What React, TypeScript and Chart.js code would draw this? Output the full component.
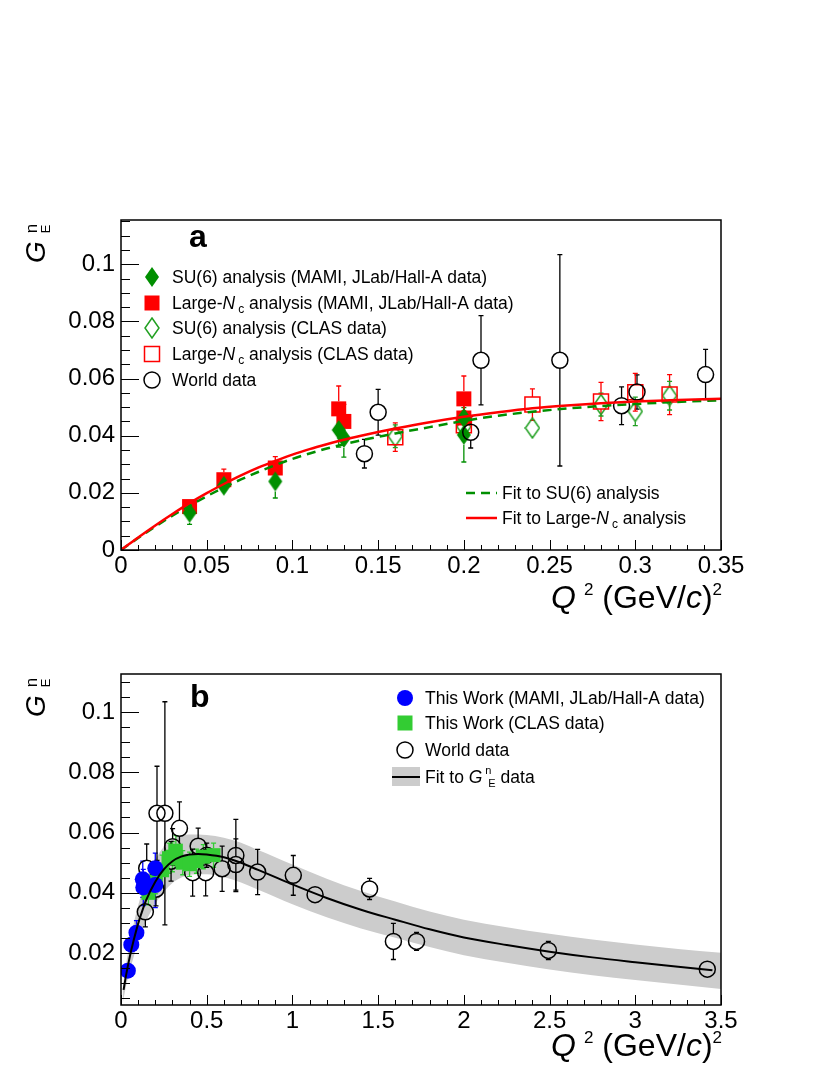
import { useEffect, useRef } from 'react';
import Chart from 'chart.js/auto';

const FONT = '"Liberation Sans", Arial, Helvetica, sans-serif';
const RED = '#ff0000';
const GREEN = '#008f00';
const GREEN_OPEN = '#22a022';
const GREEN_LIGHT = '#33cc33';
const BLUE = '#0000ff';
const GREY = '#cccccc';

// ---- panel a: the two analyses ----
const su6MamiQ2 = [0.04, 0.06, 0.09, 0.127, 0.13, 0.2, 0.2];
const su6MamiGE = [0.013, 0.0225, 0.024, 0.042, 0.0392, 0.0462, 0.0403];
const su6MamiErr = [0.004, 0.002, 0.0058, 0.006, 0.0067, 0.006, 0.0095];

const lncMamiQ2 = [0.04, 0.06, 0.09, 0.127, 0.13, 0.2, 0.2];
const lncMamiGE = [0.0152, 0.0246, 0.0287, 0.0494, 0.045, 0.0529, 0.0462];
const lncMamiErr = [0.0015, 0.0037, 0.004, 0.008, 0.006, 0.008, 0.006];

const su6ClasQ2 = [0.16, 0.2, 0.24, 0.28, 0.3, 0.32];
const su6ClasGE = [0.0398, 0.0432, 0.0427, 0.0509, 0.0485, 0.054];
const su6ClasErr = [0.004, 0.004, 0.003, 0.004, 0.005, 0.005];

const lncClasQ2 = [0.16, 0.2, 0.24, 0.28, 0.3, 0.32];
const lncClasGE = [0.0395, 0.0437, 0.0509, 0.052, 0.0552, 0.0544];
const lncClasErr = [0.005, 0.005, 0.0055, 0.0067, 0.0066, 0.007];

const fitQ2A = [0, 0.01, 0.02, 0.03, 0.04, 0.05, 0.06, 0.07, 0.08, 0.09, 0.1, 0.11, 0.12, 0.13, 0.14, 0.15, 0.16, 0.18, 0.2, 0.22, 0.24, 0.26, 0.28, 0.3, 0.32, 0.35];
const fitLncA = [0, 0.0044, 0.0086, 0.0126, 0.0164, 0.0199, 0.0231, 0.0261, 0.0288, 0.0312, 0.0334, 0.0353, 0.037, 0.0386, 0.04, 0.0413, 0.0425, 0.0447, 0.0466, 0.0482, 0.0496, 0.0506, 0.0514, 0.052, 0.0524, 0.0529];
const fitSu6A = [0, 0.0042, 0.0082, 0.012, 0.0155, 0.0188, 0.0219, 0.0247, 0.0273, 0.0297, 0.0319, 0.0338, 0.0355, 0.037, 0.0384, 0.0396, 0.0408, 0.043, 0.0452, 0.047, 0.0484, 0.0495, 0.0504, 0.0511, 0.0517, 0.0524];

// ---- world data (both panels) ----
const worldQ2 = [0.142, 0.15, 0.204, 0.21, 0.256, 0.292, 0.301, 0.341, 0.418, 0.45, 0.494, 0.5, 0.59, 0.67, 0.67, 0.797, 1.005, 1.132, 1.45, 1.589, 1.724, 2.493, 3.42];
const worldGE = [0.0337, 0.0482, 0.0412, 0.0664, 0.0664, 0.0505, 0.0553, 0.0614, 0.0467, 0.0555, 0.0467, 0.0525, 0.048, 0.0524, 0.0494, 0.0469, 0.0458, 0.0394, 0.0413, 0.0239, 0.0239, 0.0209, 0.0147];
const worldErr = [0.005, 0.008, 0.0055, 0.0156, 0.037, 0.0066, 0.006, 0.0088, 0.0078, 0.006, 0.0077, 0.004, 0.0075, 0.012, 0.0085, 0.0075, 0.0066, 0.0025, 0.0035, 0.006, 0.003, 0.003, 0.001];

// ---- panel b: this work ----
const twMamiQ2 = [0.04, 0.06, 0.09, 0.127, 0.13, 0.2, 0.2];
const twMamiGE = [0.0142, 0.0228, 0.0268, 0.0445, 0.0418, 0.0482, 0.0426];
const twMamiErr = [0.0015, 0.002, 0.004, 0.006, 0.006, 0.005, 0.0075];

const twClasQ2 = [0.16, 0.2, 0.24, 0.28, 0.3, 0.32, 0.36, 0.4, 0.44, 0.48, 0.54];
const twClasGE = [0.04, 0.0437, 0.0475, 0.0515, 0.052, 0.054, 0.05, 0.0495, 0.0505, 0.052, 0.0525];
const twClasErr = [0.004, 0.004, 0.005, 0.005, 0.005, 0.005, 0.004, 0.004, 0.004, 0.004, 0.004];

const fitQ2B = [0.015, 0.03, 0.05, 0.075, 0.1, 0.125, 0.15, 0.2, 0.25, 0.3, 0.35, 0.4, 0.45, 0.5, 0.6, 0.7, 0.8, 0.9, 1.0, 1.2, 1.4, 1.6, 1.8, 2.0, 2.25, 2.5, 2.75, 3.0, 3.25, 3.45];
const fitGEB = [0.0078, 0.0128, 0.0185, 0.0245, 0.0298, 0.0342, 0.038, 0.0437, 0.0478, 0.0505, 0.052, 0.0527, 0.0529, 0.0527, 0.0518, 0.05, 0.0476, 0.0452, 0.0428, 0.0383, 0.0344, 0.0311, 0.0279, 0.0252, 0.0227, 0.0205, 0.0186, 0.017, 0.0155, 0.0143];

const bandQ2 = [0.01, 0.03, 0.05, 0.075, 0.1, 0.125, 0.15, 0.2, 0.25, 0.3, 0.35, 0.4, 0.5, 0.6, 0.7, 0.8, 0.9, 1.0, 1.2, 1.4, 1.6, 1.8, 2.0, 2.25, 2.5, 2.75, 3.0, 3.25, 3.5];
const bandHi = [0.0085, 0.0165, 0.023, 0.03, 0.0358, 0.0407, 0.045, 0.051, 0.0553, 0.0577, 0.059, 0.0594, 0.0592, 0.0583, 0.0566, 0.0542, 0.0518, 0.0494, 0.0447, 0.0406, 0.0371, 0.0338, 0.0311, 0.0286, 0.0264, 0.0245, 0.0229, 0.0214, 0.0201];
const bandLo = [0.0035, 0.0092, 0.014, 0.019, 0.0238, 0.0277, 0.031, 0.0364, 0.0403, 0.0433, 0.045, 0.046, 0.0462, 0.0453, 0.0434, 0.041, 0.0386, 0.0362, 0.0319, 0.0282, 0.0251, 0.022, 0.0193, 0.0168, 0.0146, 0.0127, 0.0111, 0.0096, 0.0081];

// ---- axes ----
const xTicksA = [0, 0.05, 0.1, 0.15, 0.2, 0.25, 0.3, 0.35];
const yTicksA = [0, 0.02, 0.04, 0.06, 0.08, 0.1];
const xTicksB = [0, 0.5, 1, 1.5, 2, 2.5, 3, 3.5];
const yTicksB = [0.02, 0.04, 0.06, 0.08, 0.1];

type Pt = { x: number; y: number };
const pts = (xs: number[], ys: number[]): Pt[] => xs.map((x, i) => ({ x, y: ys[i] }));
const fmt = (v: number | string) => String(Number(Number(v).toFixed(3)));

type Part = { t: string; size: number; italic?: boolean; bold?: boolean; dy?: number; gap?: number; still?: boolean };

function fontOf(p: Part) {
  return `${p.italic ? 'italic ' : ''}${p.bold ? 'bold ' : ''}${p.size}px ${FONT}`;
}

function drawParts(ctx: CanvasRenderingContext2D, parts: Part[], x: number, y: number, align: 'left' | 'right' = 'left') {
  ctx.save();
  ctx.textBaseline = 'alphabetic';
  ctx.textAlign = 'left';
  ctx.fillStyle = '#000';
  let total = 0;
  for (const p of parts) {
    ctx.font = fontOf(p);
    total += (p.gap ?? 0) + (p.still ? 0 : ctx.measureText(p.t).width);
  }
  let cx = align === 'right' ? x - total : x;
  for (const p of parts) {
    ctx.font = fontOf(p);
    cx += p.gap ?? 0;
    ctx.fillText(p.t, cx, y + (p.dy ?? 0));
    if (!p.still) cx += ctx.measureText(p.t).width;
  }
  ctx.restore();
}

const LS = 17.5;
const txt = (t: string): Part => ({ t, size: LS });
const nc = (): Part[] => [{ t: 'N', size: LS, italic: true }, { t: 'c', size: 12, dy: 4, gap: 3 }];

function diamond(color: string, filled: boolean): HTMLCanvasElement {
  const w = 16;
  const h = 22;
  const c = document.createElement('canvas');
  c.width = w;
  c.height = h;
  const g = c.getContext('2d')!;
  g.beginPath();
  g.moveTo(w / 2, 1);
  g.lineTo(w - 1, h / 2);
  g.lineTo(w / 2, h - 1);
  g.lineTo(1, h / 2);
  g.closePath();
  if (filled) {
    g.fillStyle = color;
    g.fill();
  } else {
    g.strokeStyle = color;
    g.lineWidth = 1.5;
    g.stroke();
  }
  return c;
}

type Mk = { kind: 'circle' | 'square' | 'img'; color: string; filled: boolean; img?: HTMLCanvasElement; size?: number };

function drawMarker(ctx: CanvasRenderingContext2D, m: Mk, x: number, y: number) {
  ctx.save();
  ctx.fillStyle = m.color;
  ctx.strokeStyle = m.color;
  ctx.lineWidth = 1.5;
  if (m.kind === 'img' && m.img) {
    ctx.drawImage(m.img, x - m.img.width / 2, y - m.img.height / 2);
  } else if (m.kind === 'circle') {
    ctx.beginPath();
    ctx.arc(x, y, m.size ?? 8, 0, Math.PI * 2);
    if (m.filled) ctx.fill();
    else ctx.stroke();
  } else {
    const s = m.size ?? 15;
    if (m.filled) ctx.fillRect(x - s / 2, y - s / 2, s, s);
    else ctx.strokeRect(x - s / 2, y - s / 2, s, s);
  }
  ctx.restore();
}

function drawYTitle(ctx: CanvasRenderingContext2D, x: number, y: number) {
  ctx.save();
  ctx.translate(x, y);
  ctx.rotate(-Math.PI / 2);
  drawParts(ctx, [
    { t: 'G', size: 28, italic: true },
    { t: 'n', size: 17, dy: -8, gap: 8, still: true },
    { t: 'E', size: 13, dy: 5 },
  ], 0, 0);
  ctx.restore();
}

function drawXTitle(ctx: CanvasRenderingContext2D, x: number, y: number) {
  drawParts(ctx, [
    { t: 'Q', size: 32, italic: true },
    { t: '2', size: 17, dy: -13, gap: 8 },
    { t: ' (GeV/', size: 32 },
    { t: 'c', size: 32, italic: true },
    { t: ')', size: 32 },
    { t: '2', size: 17, dy: -13 },
  ], x, y, 'right');
}

// inward ROOT-style ticks and the frame
function frameAndTicks(chart: any, xStep: number, xMinor: number, yStep: number, yMinor: number) {
  const { ctx, chartArea: a, scales } = chart;
  const xs = scales.x;
  const ys = scales.y;
  ctx.save();
  ctx.strokeStyle = '#000';
  ctx.lineWidth = 1;
  ctx.beginPath();
  const eps = 1e-9;
  for (let v = Math.ceil(xs.min / xMinor - eps) * xMinor; v <= xs.max + eps; v += xMinor) {
    const major = Math.abs(v / xStep - Math.round(v / xStep)) < 1e-6;
    const px = Math.round(xs.getPixelForValue(v)) + 0.5;
    ctx.moveTo(px, a.bottom);
    ctx.lineTo(px, a.bottom - (major ? 10 : 5));
  }
  for (let v = Math.ceil(ys.min / yMinor - eps) * yMinor; v <= ys.max + eps; v += yMinor) {
    const major = Math.abs(v / yStep - Math.round(v / yStep)) < 1e-6;
    const py = Math.round(ys.getPixelForValue(v)) + 0.5;
    ctx.moveTo(a.left, py);
    ctx.lineTo(a.left + (major ? 18 : 9), py);
  }
  ctx.stroke();
  ctx.lineWidth = 1.5;
  ctx.strokeRect(a.left, a.top, a.right - a.left, a.bottom - a.top);
  ctx.restore();
}

const errorBars = {
  id: 'errorBars',
  beforeDatasetsDraw(chart: any) {
    const { ctx, chartArea: a, scales } = chart;
    const xs = scales.x;
    const ys = scales.y;
    ctx.save();
    ctx.beginPath();
    ctx.rect(a.left, a.top, a.right - a.left, a.bottom - a.top);
    ctx.clip();
    chart.data.datasets.forEach((ds: any) => {
      if (!ds.errY) return;
      ctx.strokeStyle = ds.errColor;
      ctx.lineWidth = 1.3;
      ds.data.forEach((p: Pt, i: number) => {
        const e = ds.errY[i];
        if (!e) return;
        const px = xs.getPixelForValue(p.x);
        const py = ys.getPixelForValue(p.y);
        const top = ys.getPixelForValue(p.y + e);
        const bot = ys.getPixelForValue(p.y - e);
        const g = ds.gap;
        ctx.beginPath();
        if (py - g > top) {
          ctx.moveTo(px, top);
          ctx.lineTo(px, py - g);
          ctx.moveTo(px - 2.5, top);
          ctx.lineTo(px + 2.5, top);
        }
        if (py + g < bot) {
          ctx.moveTo(px, py + g);
          ctx.lineTo(px, bot);
          ctx.moveTo(px - 2.5, bot);
          ctx.lineTo(px + 2.5, bot);
        }
        ctx.stroke();
      });
    });
    ctx.restore();
  },
};

function axisOpts(min: number, max: number, ticks: number[], horizontal: boolean) {
  return {
    type: 'linear' as const,
    min,
    max,
    grid: { display: false, drawTicks: false },
    border: { display: false },
    ticks: {
      font: { family: FONT, size: 24 },
      color: '#000',
      padding: horizontal ? 2 : 6,
      maxRotation: 0,
      autoSkip: false,
      callback: (v: number | string) => fmt(v),
    },
    afterBuildTicks: (s: any) => {
      s.ticks = ticks.map((value) => ({ value }));
    },
    afterFit: (s: any) => {
      if (horizontal) s.height = 40;
      else s.width = 121;
    },
  };
}

function pointSet(xs: number[], ys: number[], errs: number[], m: Mk, gap: number, radius: number) {
  return {
    data: pts(xs, ys),
    errY: errs,
    errColor: m.color,
    gap,
    pointStyle: m.kind === 'img' ? m.img : m.kind === 'square' ? 'rect' : 'circle',
    pointRadius: radius,
    pointBackgroundColor: m.filled ? m.color : 'rgba(0,0,0,0)',
    pointBorderColor: m.color,
    pointBorderWidth: m.filled ? 0 : 1.5,
    showLine: false,
  };
}

function configA(): any {
  const dF = diamond(GREEN, true);
  const dO = diamond(GREEN_OPEN, false);
  const mk = {
    su6Mami: { kind: 'img', color: GREEN, filled: true, img: dF } as Mk,
    lncMami: { kind: 'square', color: RED, filled: true } as Mk,
    su6Clas: { kind: 'img', color: GREEN_OPEN, filled: false, img: dO } as Mk,
    lncClas: { kind: 'square', color: RED, filled: false } as Mk,
    world: { kind: 'circle', color: '#000', filled: false } as Mk,
  };
  const texts = {
    id: 'textsA',
    afterDraw(chart: any) {
      const ctx = chart.ctx as CanvasRenderingContext2D;
      frameAndTicks(chart, 0.05, 0.01, 0.02, 0.005);
      drawParts(ctx, [{ t: 'a', size: 32, bold: true }], 189, 247);
      drawYTitle(ctx, 45, 263);
      drawXTitle(ctx, 722, 608);
      const rows: [Mk, Part[]][] = [
        [mk.su6Mami, [txt('SU(6) analysis (MAMI, JLab/Hall-A data)')]],
        [mk.lncMami, [txt('Large-'), ...nc(), txt(' analysis (MAMI, JLab/Hall-A data)')]],
        [mk.su6Clas, [txt('SU(6) analysis (CLAS data)')]],
        [mk.lncClas, [txt('Large-'), ...nc(), txt(' analysis (CLAS data)')]],
        [mk.world, [txt('World data')]],
      ];
      const ry = [277, 303, 328, 354, 380];
      rows.forEach(([m, parts], i) => {
        drawMarker(ctx, m, 152, ry[i]);
        drawParts(ctx, parts, 172, ry[i] + 6);
      });
      ctx.save();
      ctx.lineWidth = 2.5;
      ctx.strokeStyle = GREEN;
      ctx.setLineDash([9, 6]);
      ctx.beginPath();
      ctx.moveTo(466, 493);
      ctx.lineTo(497, 493);
      ctx.stroke();
      ctx.setLineDash([]);
      ctx.strokeStyle = RED;
      ctx.beginPath();
      ctx.moveTo(466, 518);
      ctx.lineTo(497, 518);
      ctx.stroke();
      ctx.restore();
      drawParts(ctx, [txt('Fit to SU(6) analysis')], 502, 499);
      drawParts(ctx, [txt('Fit to Large-'), ...nc(), txt(' analysis')], 502, 524);
    },
  };
  return {
    type: 'scatter',
    data: {
      datasets: [
        { data: pts(fitQ2A, fitLncA), showLine: true, borderColor: RED, borderWidth: 2.5, pointRadius: 0, cubicInterpolationMode: 'monotone', fill: false },
        { data: pts(fitQ2A, fitSu6A), showLine: true, borderColor: GREEN, borderWidth: 2.5, borderDash: [9, 6], pointRadius: 0, cubicInterpolationMode: 'monotone', fill: false },
        pointSet(worldQ2, worldGE, worldErr, mk.world, 8, 8),
        pointSet(su6MamiQ2, su6MamiGE, su6MamiErr, mk.su6Mami, 10, 10),
        pointSet(lncMamiQ2, lncMamiGE, lncMamiErr, mk.lncMami, 7.5, 10.6),
        pointSet(lncClasQ2, lncClasGE, lncClasErr, mk.lncClas, 7.5, 10.6),
        pointSet(su6ClasQ2, su6ClasGE, su6ClasErr, mk.su6Clas, 10, 10),
      ],
    },
    options: {
      responsive: false,
      animation: false,
      layout: { padding: { left: 0, right: 109, top: 220, bottom: 35 } },
      plugins: { legend: { display: false }, tooltip: { enabled: false }, filler: { drawTime: 'beforeDatasetsDraw' } },
      scales: {
        x: axisOpts(0, 0.35, xTicksA, true),
        y: axisOpts(0, 0.1155, yTicksA, false),
      },
    },
    plugins: [errorBars, texts],
  };
}

function configB(): any {
  const mk = {
    mami: { kind: 'circle', color: BLUE, filled: true } as Mk,
    clas: { kind: 'square', color: GREEN_LIGHT, filled: true, size: 15 } as Mk,
    world: { kind: 'circle', color: '#000', filled: false } as Mk,
  };
  const texts = {
    id: 'textsB',
    afterDraw(chart: any) {
      const ctx = chart.ctx as CanvasRenderingContext2D;
      frameAndTicks(chart, 0.5, 0.1, 0.02, 0.005);
      drawParts(ctx, [{ t: 'b', size: 32, bold: true }], 190, 82);
      drawYTitle(ctx, 45, 92);
      drawXTitle(ctx, 722, 431);
      const rows: [Mk, Part[]][] = [
        [mk.mami, [txt('This Work (MAMI, JLab/Hall-A data)')]],
        [mk.clas, [txt('This Work (CLAS data)')]],
        [mk.world, [txt('World data')]],
      ];
      const ry = [73, 98, 125];
      rows.forEach(([m, parts], i) => {
        drawMarker(ctx, m, 405, ry[i]);
        drawParts(ctx, parts, 425, ry[i] + 6);
      });
      ctx.save();
      ctx.fillStyle = GREY;
      ctx.fillRect(392, 142, 28, 19);
      ctx.strokeStyle = '#000';
      ctx.lineWidth = 2;
      ctx.beginPath();
      ctx.moveTo(392, 152);
      ctx.lineTo(420, 152);
      ctx.stroke();
      ctx.restore();
      drawParts(ctx, [
        txt('Fit to '),
        { t: 'G', size: LS, italic: true },
        { t: 'n', size: 11, dy: -9, gap: 3, still: true },
        { t: 'E', size: 11, dy: 4, gap: 3 },
        txt(' data'),
      ], 425, 158);
    },
  };
  return {
    type: 'scatter',
    data: {
      datasets: [
        { data: pts(fitQ2B, fitGEB), showLine: true, borderColor: '#000', borderWidth: 2, pointRadius: 0, cubicInterpolationMode: 'monotone', fill: false },
        pointSet(twMamiQ2, twMamiGE, twMamiErr, mk.mami, 8, 8),
        pointSet(twClasQ2, twClasGE, twClasErr, mk.clas, 7, 9.9),
        pointSet(worldQ2, worldGE, worldErr, mk.world, 8, 8),
        { data: pts(bandQ2, bandHi), showLine: true, borderWidth: 0, borderColor: 'rgba(0,0,0,0)', pointRadius: 0, backgroundColor: GREY, fill: '+1', cubicInterpolationMode: 'monotone' },
        { data: pts(bandQ2, bandLo), showLine: true, borderWidth: 0, borderColor: 'rgba(0,0,0,0)', pointRadius: 0, fill: false, cubicInterpolationMode: 'monotone' },
      ],
    },
    options: {
      responsive: false,
      animation: false,
      layout: { padding: { left: 0, right: 109, top: 49, bottom: 30 } },
      plugins: { legend: { display: false }, tooltip: { enabled: false }, filler: { drawTime: 'beforeDatasetsDraw' } },
      scales: {
        x: axisOpts(0, 3.5, xTicksB, true),
        y: axisOpts(0.0028, 0.1126, yTicksB, false),
      },
    },
    plugins: [errorBars, texts],
  };
}

export default function App() {
  const refA = useRef<HTMLCanvasElement | null>(null);
  const refB = useRef<HTMLCanvasElement | null>(null);

  useEffect(() => {
    if (!refA.current || !refB.current) return;
    const a = new Chart(refA.current, configA());
    const b = new Chart(refB.current, configB());
    return () => {
      a.destroy();
      b.destroy();
    };
  }, []);

  return (
    <div style={{ position: 'absolute', left: 0, top: 0, width: 830, height: 1075, background: '#fff' }}>
      <canvas ref={refA} width={830} height={625} style={{ position: 'absolute', left: 0, top: 0, width: 830, height: 625 }} />
      <canvas ref={refB} width={830} height={450} style={{ position: 'absolute', left: 0, top: 625, width: 830, height: 450 }} />
    </div>
  );
}
